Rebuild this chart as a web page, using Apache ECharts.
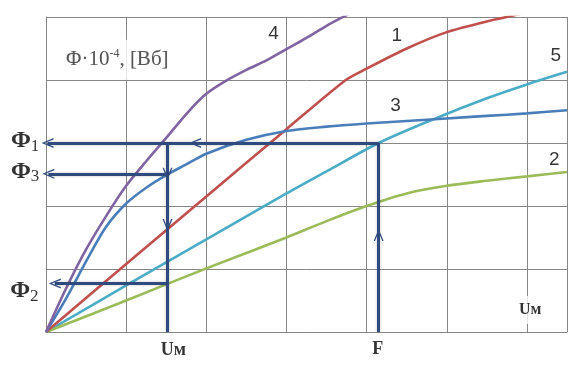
<!DOCTYPE html>
<html><head><meta charset="utf-8">
<script src="https://cdn.jsdelivr.net/npm/echarts@6/dist/echarts.min.js"></script>
<style>html,body{margin:0;padding:0;background:#fff}#c{width:585px;height:379px}</style>
</head><body><div id="c"></div>
<script>
// x ticks / y ticks (unlabelled grid)
const xTicks = [0, 1, 2, 3, 4, 5, 6];
const yTicks = [0, 1, 2, 3, 4, 5];

// Curves [x, y]
const curve1 = [[0,0],[1,1.08],[2,2.15],[3,3.22],[3.74,4.0],[4.0,4.18],[4.5,4.5],[5.0,4.76],[5.5,4.93],[6.0,5.07]];
const curve2 = [[0,0],[1,0.5],[2,1.01],[3,1.5],[3.5,1.76],[4.0,2.0],[4.5,2.2],[5.0,2.32],[5.5,2.4],[6,2.47],[6.5,2.54]];
const curve3 = [[0,0],[0.25,0.53],[0.5,1.12],[0.75,1.67],[1.0,2.04],[1.25,2.29],[1.5,2.49],[1.75,2.66],[2.0,2.83],[2.5,3.05],[3.0,3.19],[3.5,3.26],[4,3.31],[4.5,3.35],[5,3.39],[5.5,3.43],[6,3.47],[6.5,3.52]];
const curve4 = [[0,0],[0.25,0.69],[0.5,1.31],[0.75,1.84],[1.0,2.32],[1.25,2.71],[1.5,3.08],[1.75,3.46],[2.0,3.78],[2.25,3.99],[2.5,4.16],[2.75,4.31],[3.0,4.49],[3.25,4.67],[3.5,4.86],[3.75,5.03],[4.0,5.2]];
const curve5 = [[0,0],[1,0.74],[2,1.47],[3,2.2],[3.5,2.55],[4.15,3.0],[4.82,3.37],[5.5,3.71],[6,3.93],[6.5,4.13]];

// Construction points
const Um = 1.516, F = 4.15;
const Phi1 = 3.0, Phi3 = 2.51, Phi2 = 0.77;

// Arrow segments: [from, to, arrowAtEnd]
const arrowSegs = [
  [[F,0],[F,1.54],true],
  [[F,1.54],[F,Phi1],false],
  [[F,Phi1],[1.86,Phi1],true],
  [[1.86,Phi1],[0.02,Phi1],true],
  [[Um,Phi1],[Um,Phi3],true],
  [[Um,Phi3],[Um,1.70],true],
  [[Um,1.70],[Um,0],false],
  [[Um,Phi3],[0.03,Phi3],true],
  [[Um,Phi2],[0.11,Phi2],true]
];

// Text labels [x, y, text]
const curveLabels = [[2.84,4.74,'4'],[4.375,4.71,'1'],[6.36,4.38,'5'],[4.36,3.59,'3'],[6.34,2.73,'2']];
const phiLabels = [[-0.26,3.03,'1'],[-0.26,2.54,'3'],[-0.27,0.65,'2']];
const axisLabels = [[1.59,-0.286,'Uм'],[4.14,-0.278,'F']];
const unitLabel = [0.25, 4.32];
const umRight = [6.04, 0.35];

const colors = {c1:'#C0504D', c2:'#9BBB59', c3:'#4A7EBB', c4:'#8064A2', c5:'#4BACC6', arrow:'#2F4A7E', grid:'#878787'};

const chev = 'path://M0,12 L5,0 L10,12 L8.6,12 L5,3 L1.4,12 Z';

function curveSeries(name, data, color, sm){
  return {name, type:'line', data, smooth:sm, showSymbol:false, symbol:'none',
    lineStyle:{color, width:2.6}, itemStyle:{color}, z:3, silent:true};
}

const markData = arrowSegs.map(s => [
  {coord:s[0], symbol:'none'},
  {coord:s[1], symbol: s[2] ? chev : 'none', symbolSize:[10,12]}
]);

const chart = echarts.init(document.getElementById('c'), null, {renderer:'canvas'});
chart.setOption({
  animation:false,
  backgroundColor:'#fff',
  grid:{left:46, right:18, top:17, bottom:47, containLabel:false},
  xAxis:{type:'value', min:0, max:6.5, interval:1,
    axisLine:{show:true, lineStyle:{color:colors.grid, width:1}},
    axisTick:{show:false}, axisLabel:{show:false},
    splitLine:{show:true, lineStyle:{color:colors.grid, width:1}}},
  yAxis:{type:'value', min:0, max:5, interval:1,
    axisLine:{show:true, lineStyle:{color:colors.grid, width:1}},
    axisTick:{show:false}, axisLabel:{show:false},
    splitLine:{show:true, lineStyle:{color:colors.grid, width:1}}},
  series:[
    curveSeries('5', curve5, colors.c5, 0.3),
    curveSeries('2', curve2, colors.c2, 0.3),
    curveSeries('1', curve1, colors.c1, 0.25),
    curveSeries('3', curve3, colors.c3, 0.3),
    curveSeries('4', curve4, colors.c4, 0.3),
    {type:'line', data:[], z:5, silent:true,
      markLine:{silent:true, animation:false, symbol:['none','none'],
        label:{show:false},
        lineStyle:{color:colors.arrow, width:3, type:'solid', shadowBlur:3, shadowColor:'rgba(0,0,0,0.25)'},
        itemStyle:{color:colors.arrow},
        emphasis:{disabled:true},
        data:markData}},
    {type:'scatter', clip:false, symbolSize:0, silent:true, z:6,
      data:curveLabels.map(d=>({value:[d[0],d[1]], name:d[2]})),
      label:{show:true, position:'inside', formatter:p=>p.name, color:'#000',
        fontFamily:'Liberation Sans', fontSize:19}},
    {type:'scatter', clip:false, symbolSize:0, silent:true, z:6,
      data:phiLabels.map(d=>({value:[d[0],d[1]], name:d[2]})),
      label:{show:true, position:'inside', formatter:p=>'{p|Φ}{n|'+p.name+'}', color:'#000',
        rich:{p:{fontFamily:'Liberation Serif', fontWeight:'bold', fontSize:24, color:'#000', lineHeight:24},
              n:{fontFamily:'Liberation Serif', fontSize:17, color:'#000', padding:[10,0,0,0], lineHeight:24}}}},
    {type:'scatter', clip:false, symbolSize:0, silent:true, z:6,
      data:axisLabels.map(d=>({value:[d[0],d[1]], name:d[2]})),
      label:{show:true, position:'inside', formatter:p=>p.name, color:'#000',
        fontFamily:'Liberation Serif', fontWeight:'bold', fontSize:18}},
    {type:'scatter', clip:false, symbolSize:0, silent:true, z:6,
      data:[{value:umRight, name:'Uм'}],
      label:{show:true, position:'inside', formatter:p=>p.name, color:'#000',
        fontFamily:'Liberation Serif', fontWeight:'bold', fontSize:16,
        backgroundColor:'#fff', padding:[6,2,6,2]}},
    {type:'scatter', clip:false, symbolSize:0, silent:true, z:6,
      data:[{value:unitLabel, name:'u'}],
      label:{show:true, position:'inside', align:'left',
        formatter:()=>'{a|Φ·10}{s|-4}{a|, [Вб]}',
        backgroundColor:'#fff', padding:[8,4,8,0],
        textShadowColor:'rgba(0,0,0,0.2)', textShadowBlur:1,
        rich:{a:{fontFamily:'Liberation Serif', fontSize:21, color:'#333', lineHeight:24},
              s:{fontFamily:'Liberation Serif', fontSize:12, color:'#333', padding:[0,0,12,0], lineHeight:24}}}}
  ]
});
</script></body></html>
